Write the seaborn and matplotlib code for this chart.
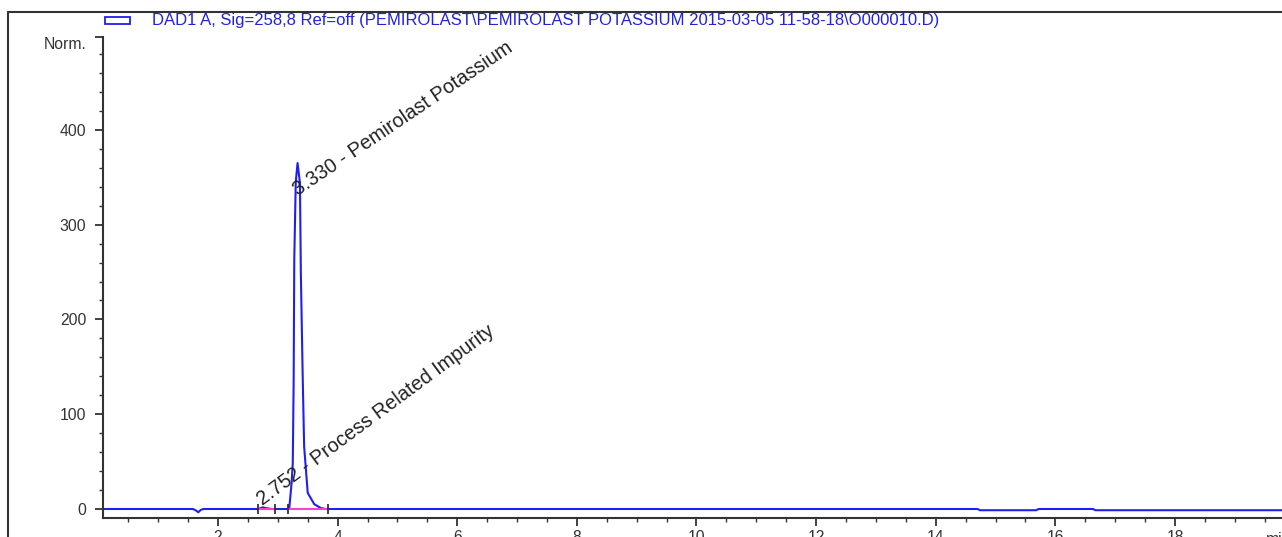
import matplotlib
matplotlib.use("Agg")
import matplotlib.pyplot as plt
from matplotlib.lines import Line2D
from matplotlib.patches import Rectangle
from matplotlib.ticker import MultipleLocator, FixedLocator, FixedFormatter
import seaborn as sns
import pandas as pd

# Chromatogram trace (retention time in min, signal in Norm. units)
time_min = [0.00, 1.58, 1.63, 1.67, 1.71, 1.76, 2.65, 2.72, 2.752, 2.79, 2.90,
            3.19, 3.23, 3.25, 3.265, 3.275, 3.30, 3.33, 3.37, 3.385, 3.415,
            3.44, 3.50, 3.61, 3.72, 3.80, 14.70, 14.74, 15.68, 15.72, 16.63,
            16.67, 19.90]
signal = [0.0, 0.0, -1.5, -3.5, -1.0, 0.0, 0.0, 1.0, 1.8, 1.0, 0.0,
          0.0, 27.0, 48.0, 136.0, 263.0, 345.0, 365.0, 344.0, 249.0, 143.0,
          66.0, 17.0, 5.0, 1.0, 0.0, 0.0, -1.3, -1.3, 0.0, 0.0,
          -1.3, -1.3]

# Integrated peaks: retention time, label, integration start / end
peak_rt = [2.752, 3.330]
peak_names = ["Process Related Impurity", "Pemirolast Potassium"]
peak_label_y = [3.0, 330.0]
peak_label_angle = [36.5, 34.0]
peak_start = [2.67, 3.17]
peak_end = [2.95, 3.84]

y_major = [0, 100, 200, 300, 400]
x_major = [2, 4, 6, 8, 10, 12, 14, 16, 18]

title = ("DAD1 A, Sig=258,8 Ref=off (PEMIROLAST\\PEMIROLAST POTASSIUM "
         "2015-03-05 11-58-18\\O000010.D)")

sns.set_style("ticks")
plt.rcParams["font.family"] = ["Liberation Sans", "DejaVu Sans"]

W, H = 1282, 537
Y_TOP = 498
fig = plt.figure(figsize=(W / 100, H / 100), dpi=100)
ax = fig.add_axes([103 / W, (H - 518) / H, 1 - 103 / W, (518 - 37) / H])

trace = pd.DataFrame({"time": time_min, "signal": signal})
sns.lineplot(data=trace, x="time", y="signal", ax=ax, color="#1f1fef",
             linewidth=1.5, estimator=None, sort=False)

# Integration baselines and their start/end marks
for s, e in zip(peak_start, peak_end):
    ax.plot([s, e], [0, 0], color="#ff40d0", linewidth=1.5, zorder=3)
    ax.plot([s, e], [0, 0], linestyle="none", marker="|", markersize=7,
            color="#222222", markeredgewidth=1.2, zorder=4)

# Peak labels
for rt, name, ly, ang in zip(peak_rt, peak_names, peak_label_y, peak_label_angle):
    ax.text(rt, ly, f"{rt:.3f} - {name}", rotation=ang, rotation_mode="anchor",
            ha="left", va="baseline", fontsize=14.3, color="#222222")

ax.set_xlim(0.077, 19.79)
ax.set_ylim(-9.5, Y_TOP)

ax.yaxis.set_major_locator(FixedLocator(y_major + [Y_TOP]))
ax.yaxis.set_major_formatter(FixedFormatter([str(v) for v in y_major] + ["Norm."]))
ax.yaxis.set_minor_locator(MultipleLocator(20))
ax.xaxis.set_major_locator(FixedLocator(x_major))
ax.xaxis.set_major_formatter(FixedFormatter([str(v) for v in x_major]))
ax.xaxis.set_minor_locator(MultipleLocator(0.5))

ax.tick_params(axis="both", which="major", length=6, width=1.3, color="#333333",
               labelsize=11.3, labelcolor="#333333", direction="out")
ax.tick_params(axis="both", which="minor", length=3, width=1.0, color="#333333",
               direction="out")
ax.tick_params(axis="y", which="major", pad=6)
ax.tick_params(axis="x", which="major", pad=3)

# The unit label sits just below the top bracket of the axis
ax.yaxis.get_major_ticks()[-1].label1.set_verticalalignment("top")

for side in ("top", "right"):
    ax.spines[side].set_visible(False)
for side in ("left", "bottom"):
    ax.spines[side].set_linewidth(1.5)
    ax.spines[side].set_color("#333333")
ax.set_xlabel("")
ax.set_ylabel("")

ax.annotate("min", xy=(19.52, 0), xycoords=("data", "axes fraction"),
            xytext=(0, -10), textcoords="offset points", ha="left", va="top",
            fontsize=11.3, color="#333333", annotation_clip=False)

# Frame and signal legend above the plot
fig.add_artist(Line2D([8 / W, 8 / W], [0, 1 - 12 / H], transform=fig.transFigure,
                      color="#333333", linewidth=1.5))
fig.add_artist(Line2D([8 / W, 1], [1 - 12 / H, 1 - 12 / H], transform=fig.transFigure,
                      color="#333333", linewidth=1.5))
fig.add_artist(Rectangle((105 / W, 1 - 24 / H), 25 / W, 7 / H, transform=fig.transFigure,
                         fill=False, edgecolor="#1f1fef", linewidth=1.3))
fig.text(152 / W, 1 - 20.5 / H, title, ha="left", va="center", fontsize=12,
         color="#2222dd")

fig.savefig("out.png", dpi=100)
